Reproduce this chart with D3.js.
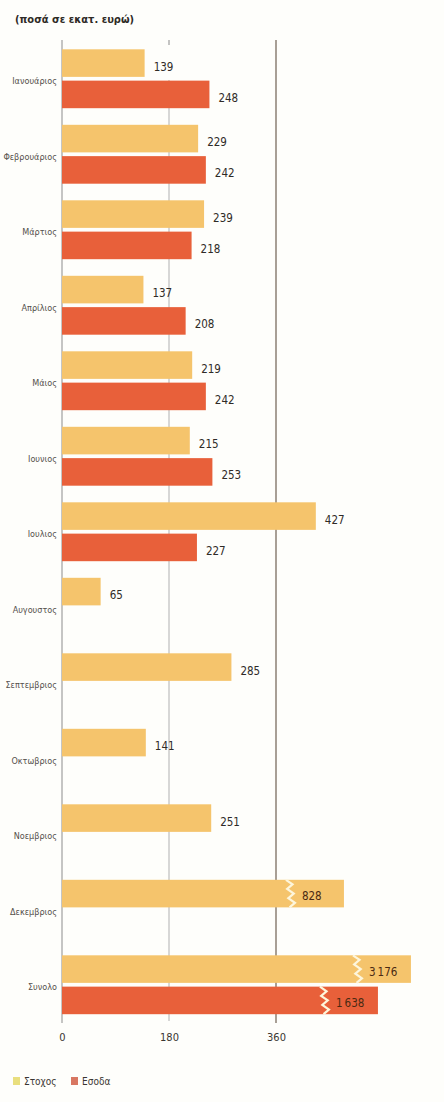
<!DOCTYPE html>
<html>
<head>
<meta charset="utf-8">
<script src="https://cdn.jsdelivr.net/npm/d3@7"></script>
<style>
  body { margin: 0; background: #fefefb; }
  svg text { font-family: "DejaVu Sans Condensed", "Liberation Sans Narrow", sans-serif; font-stretch: condensed; }
</style>
</head>
<body>
<div id="chart"></div>
<script>
  const months = ["Ιανουάριος", "Φεβρουάριος", "Μάρτιος", "Απρίλιος", "Μάιος", "Ιουνιος",
    "Ιουλιος", "Αυγουστος", "Σεπτεμβριος", "Οκτωβριος", "Νοεμβριος", "Δεκεμβριος", "Συνολο"];
  const target = [139, 229, 239, 137, 219, 215, 427, 65, 285, 141, 251, 828, 3176];
  const revenue = [248, 242, 218, 208, 242, 253, 227, null, null, null, null, null, 1638];
  const series = ["Στοχος", "Εσοδα"];
  const tickValues = [0, 180, 360];

  const W = 444, H = 1102;
  const breakAt = 500; // bars above this are drawn with a break
  const colors = { "Στοχος": "#f5c46c", "Εσοδα": "#e8603a" };
  const legendColors = { "Στοχος": "#e9df7e", "Εσοδα": "#d87762" };

  const svg = d3.select("#chart").append("svg")
    .attr("width", W).attr("height", H);

  // scales
  const x = d3.scaleLinear().domain([0, 360]).range([62, 276]);
  // compressed scale for broken bars
  const xBreak = d3.scaleLog().domain([550, 5000]).range([x(440), x(440) + 110]);
  const barEnd = v => v > breakAt ? xBreak(v) : x(v);

  const y = d3.scaleBand().domain(months).range([41, 1022.5])
    .paddingInner(0.22).paddingOuter(0.11);
  const ySub = d3.scaleBand().domain(series).range([0, y.bandwidth()]).padding(0.12).paddingOuter(0);

  // title
  svg.append("text")
    .attr("x", 15).attr("y", 23)
    .attr("font-size", 11).attr("font-weight", "bold").attr("fill", "#2e2a26")
    .text("(ποσά σε εκατ. ευρώ)");

  // grid lines
  svg.append("line")
    .attr("x1", x(180)).attr("x2", x(180)).attr("y1", 40).attr("y2", 45)
    .attr("stroke", "#8a8a8a").attr("stroke-width", 1);
  svg.append("line")
    .attr("x1", x(180)).attr("x2", x(180)).attr("y1", 80).attr("y2", 1021)
    .attr("stroke", "#a8a8a8").attr("stroke-width", 0.9);
  svg.append("line")
    .attr("x1", x(360)).attr("x2", x(360)).attr("y1", 40).attr("y2", 1023)
    .attr("stroke", "#6e5f52").attr("stroke-width", 1.2);
  svg.append("line")
    .attr("x1", x(0)).attr("x2", x(0)).attr("y1", 40).attr("y2", 1023)
    .attr("stroke", "#8c8c8c").attr("stroke-width", 1);

  // bars
  const rows = [];
  months.forEach((m, i) => {
    rows.push({ month: m, key: "Στοχος", value: target[i] });
    if (revenue[i] != null) rows.push({ month: m, key: "Εσοδα", value: revenue[i] });
  });

  const g = svg.append("g");
  g.selectAll("rect.bar")
    .data(rows)
    .enter()
    .append("rect")
    .attr("class", "bar")
    .attr("x", x(0))
    .attr("y", d => y(d.month) + ySub(d.key))
    .attr("width", d => barEnd(d.value) - x(0))
    .attr("height", ySub.bandwidth())
    .attr("fill", d => colors[d.key]);

  const fmt = v => v >= 1000 ? d3.format(",")(v).replace(",", "\u2009") : String(v);

  // normal value labels
  g.selectAll("text.val")
    .data(rows.filter(d => d.value <= breakAt))
    .enter()
    .append("text")
    .attr("class", "val")
    .attr("x", d => barEnd(d.value) + 9)
    .attr("y", d => y(d.month) + ySub(d.key) + ySub.bandwidth() / 2 + 4)
    .attr("dominant-baseline", "middle")
    .attr("font-size", 11.5)
    .attr("fill", "#2f2b27")
    .text(d => fmt(d.value));

  // broken bars: zigzag + label inside
  const broken = rows.filter(d => d.value > breakAt);
  broken.forEach(d => {
    const top = y(d.month) + ySub(d.key);
    const h = ySub.bandwidth();
    const bx = barEnd(d.value) - 56;
    const pts = d3.range(0, 7).map(k => [bx + (k % 2 ? 4 : -2) + k * 0.6, top + k * h / 6]);
    g.append("path")
      .attr("d", d3.line()(pts))
      .attr("fill", "none")
      .attr("stroke", "#fdf6dc")
      .attr("stroke-width", 2.2);
    g.append("text")
      .attr("x", bx + 14)
      .attr("y", top + h / 2 + 3)
      .attr("dominant-baseline", "middle")
      .attr("font-size", 11.5)
      .attr("fill", "#4b2a12")
      .text(fmt(d.value));
  });

  // category labels
  svg.append("g").selectAll("text")
    .data(months)
    .enter()
    .append("text")
    .attr("x", 57)
    .attr("y", d => y(d) + y.bandwidth() / 2 + 3)
    .attr("text-anchor", "end")
    .attr("dominant-baseline", "middle")
    .attr("font-size", 9)
    .attr("fill", "#55504b")
    .text(d => d);

  // x axis labels
  const axis = svg.append("g")
    .attr("transform", "translate(0,1033)")
    .call(d3.axisBottom(x).tickValues(tickValues).tickSize(0).tickPadding(0));
  axis.select(".domain").remove();
  axis.selectAll("text")
    .attr("font-size", 11)
    .attr("fill", "#3a3632")
    .attr("font-family", null);

  // legend
  const legend = svg.append("g").attr("transform", "translate(13,1077)");
  const lx = [0, 58];
  series.forEach((s, i) => {
    legend.append("rect")
      .attr("x", lx[i]).attr("y", 0).attr("width", 7).attr("height", 8)
      .attr("fill", legendColors[s]);
    legend.append("text")
      .attr("x", lx[i] + 11).attr("y", 4.5)
      .attr("dominant-baseline", "middle")
      .attr("font-size", 10).attr("fill", "#3a3632")
      .text(s);
  });
</script>
</body>
</html>
